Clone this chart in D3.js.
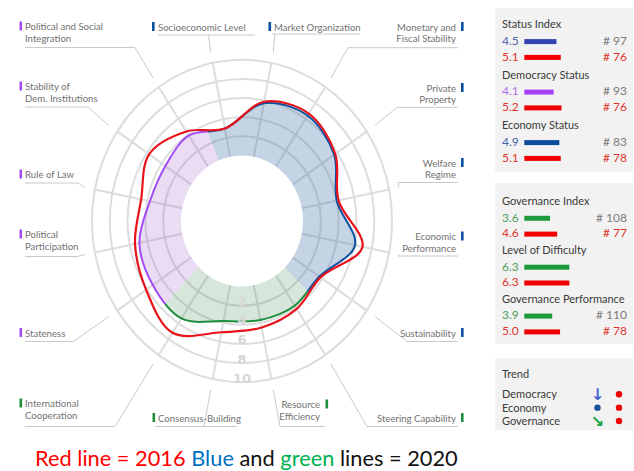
<!DOCTYPE html>
<html><head><meta charset="utf-8">
<script src="https://cdn.jsdelivr.net/npm/d3@7"></script>
<style>body{margin:0;background:#fff}svg{display:block}</style>
</head><body>
<svg id="c" width="634" height="471"></svg>
<script>
// ---------------- DATA ----------------
const criteria = ["Socioeconomic Level","Market Organization","Monetary and Fiscal Stability","Private Property","Welfare Regime","Economic Performance","Sustainability","Steering Capability","Resource Efficiency","Consensus-Building","International Cooperation","Stateness","Political Participation","Rule of Law","Stability of Dem. Institutions","Political and Social Integration"];
const criteriaGroup = ["E","E","E","E","E","E","E","G","G","G","G","D","D","D","D","D"];
const values2020 = [3.0,5.7,6.4,5.6,4.0,6.1,3.6,3.8,3.7,3.8,5.4,5.2,4.9,3.7,3.5,3.9];
const values2016 = [3.0,5.85,6.65,5.75,4.2,6.95,3.75,4.2,4.5,5.0,7.2,6.1,5.4,4.7,5.7,4.4];
const ringTicks = [2,4,6,8,10];

const statusLabels = ["Status Index","Democracy Status","Economy Status"];
const status2020 = [4.5,4.1,4.9];
const status2016 = [5.1,5.2,5.1];
const statusRank2020 = ["# 97","# 93","# 83"];
const statusRank2016 = ["# 76","# 76","# 78"];

const govLabels = ["Governance Index","Level of Difficulty","Governance Performance"];
const gov2020 = [3.6,6.3,3.9];
const gov2016 = [4.6,6.3,5.0];
const govRank2020 = ["# 108","","# 110"];
const govRank2016 = ["# 77","","# 78"];

const trendLabels = ["Democracy","Economy","Governance"];
const trend2020 = ["down","steady","downright"];
const trend2016 = ["dot","dot","dot"];

// ---------------- STYLE / LAYOUT ----------------
const cx = 242, cy = 221, ys = 1.075;
const C = {
  E:{fill:"rgb(61,112,165)", op:0.3, line:"#0b4f9e"},
  G:{fill:"rgb(50,130,70)", op:0.2, line:"#1f8f3e"},
  D:{fill:"rgb(145,80,195)", op:0.2, line:"#a24cf6"},
  red:"#e8131b", grid:"#dddddd", label:"#727272", lead:"#c9c9c9"
};
const labelLayout = [
 {lines:["Socioeconomic Level"], anchor:"start", tx:158, ty:30.5, uy:35, ux1:158, ux2:255, jx:208.5, mx:152},
 {lines:["Market Organization"], anchor:"start", tx:274, ty:30.5, uy:34, ux1:272, ux2:360, jx:275, mx:268.5},
 {lines:["Monetary and","Fiscal Stability"], anchor:"end", tx:456, ty:30.5, uy:47.7, ux1:348, ux2:458, jx:348, mx:461},
 {lines:["Private","Property"], anchor:"end", tx:456, ty:91.5, uy:107.3, ux1:397, ux2:458, jx:397, mx:461},
 {lines:["Welfare","Regime"], anchor:"end", tx:456, ty:166.5, uy:182.5, ux1:398, ux2:458, jx:398, mx:461},
 {lines:["Economic","Performance"], anchor:"end", tx:456, ty:240, uy:256, ux1:398, ux2:458, jx:398, mx:461},
 {lines:["Sustainability"], anchor:"end", tx:456, ty:336.5, uy:341.5, ux1:407, ux2:458, jx:407, mx:461},
 {lines:["Steering Capability"], anchor:"end", tx:456, ty:421.5, uy:426.5, ux1:367, ux2:458, jx:367, mx:461},
 {lines:["Resource","Efficiency"], anchor:"end", tx:320, ty:408, uy:426.5, ux1:280, ux2:325, jx:280, mx:325.5},
 {lines:["Consensus-Building"], anchor:"start", tx:158, ty:421.5, uy:426.5, ux1:155, ux2:237, jx:204, mx:152.5},
 {lines:["International","Cooperation"], anchor:"start", tx:25, ty:407, uy:426.5, ux1:25, ux2:115, jx:115, mx:19.5},
 {lines:["Stateness"], anchor:"start", tx:25, ty:336.5, uy:341.5, ux1:25, ux2:73, jx:73, mx:19.5},
 {lines:["Political","Participation"], anchor:"start", tx:25, ty:238, uy:256.5, ux1:25, ux2:77, jx:77, mx:19.5},
 {lines:["Rule of Law"], anchor:"start", tx:25, ty:178, uy:183, ux1:25, ux2:78, jx:78, mx:19.5},
 {lines:["Stability of","Dem. Institutions"], anchor:"start", tx:25, ty:90, uy:107, ux1:25, ux2:88, jx:88, mx:19.5},
 {lines:["Political and Social","Integration"], anchor:"start", tx:25, ty:30, uy:47.5, ux1:25, ux2:135, jx:135, mx:19.5}
];

const svg = d3.select("#c");
const n = criteria.length, step = 2*Math.PI/n;
const r = d3.scaleLinear().domain([0,10]).range([61,150]);
const ang = d3.scaleLinear().domain([0,n]).range([-step/2, 2*Math.PI - step/2]);

// group wedges
const groupKeys = ["E","G","D"];
const wedges = groupKeys.map(k=>{
  const idx = criteriaGroup.map((g,i)=>g===k?i:-1).filter(i=>i>=0);
  return {key:k, a0: ang(d3.min(idx)) - step/2, a1: ang(d3.max(idx)) + step/2};
});
const defs = svg.append("defs");
const wedgeArc = d3.arc().innerRadius(0).outerRadius(220);
wedges.forEach(w=>{
  defs.append("clipPath").attr("id","clip-"+w.key)
    .append("path").attr("d", wedgeArc({startAngle:w.a0, endAngle:w.a1}));
});

const g = svg.append("g").attr("transform",`translate(${cx},${cy}) scale(1,${ys})`);
// grid
g.selectAll("circle.ring").data(ringTicks).join("circle").attr("class","ring")
  .attr("r", d=>r(d)).attr("fill","none").attr("stroke",C.grid).attr("stroke-width",2)
  .attr("vector-effect","non-scaling-stroke");
g.selectAll("line.spoke").data(criteria).join("line").attr("class","spoke")
  .attr("x1",(d,i)=>r(0)*Math.sin(ang(i))).attr("y1",(d,i)=>-r(0)*Math.cos(ang(i)))
  .attr("x2",(d,i)=>r(10)*Math.sin(ang(i))).attr("y2",(d,i)=>-r(10)*Math.cos(ang(i)))
  .attr("stroke",C.grid).attr("stroke-width",2).attr("vector-effect","non-scaling-stroke");

const radial = d3.lineRadial().angle((d,i)=>ang(i)).radius(d=>r(d)).curve(d3.curveCatmullRomClosed.alpha(0.5));
// fills
wedges.forEach(w=>{
  g.append("path").attr("d", radial(values2020)).attr("fill",C[w.key].fill).attr("fill-opacity",C[w.key].op)
    .attr("clip-path",`url(#clip-${w.key})`);
});
g.append("circle").attr("r", r(0)).attr("fill","#fff");

// ring numbers
svg.selectAll("text.tick").data(ringTicks).join("text").attr("class","tick")
  .attr("x",cx).attr("y",d=>cy + ys*r(d) + 0.5).attr("text-anchor","middle")
  .attr("font-family","DejaVu Sans, sans-serif").attr("font-weight","bold").attr("font-size",13)
  .attr("fill","#d6d6d6").text(d=>d);

// lines 2020
wedges.forEach(w=>{
  g.append("path").attr("d", radial(values2020)).attr("fill","none").attr("stroke",C[w.key].line)
    .attr("stroke-width",2).attr("vector-effect","non-scaling-stroke").attr("clip-path",`url(#clip-${w.key})`);
});
// line 2016
g.append("path").attr("d", radial(values2016)).attr("fill","none").attr("stroke",C.red)
  .attr("stroke-width",2.2).attr("vector-effect","non-scaling-stroke");

// labels
const lab = svg.append("g").attr("font-family","Lato, sans-serif").attr("font-size",9.6).attr("fill",C.label);
criteria.forEach((c,i)=>{
  const L = labelLayout[i];
  const a = ang(i);
  const px = cx + 160*Math.sin(a), py = cy - ys*160*Math.cos(a);
  lab.append("line").attr("x1",px).attr("y1",py).attr("x2",L.jx).attr("y2",L.uy).attr("stroke",C.lead).attr("stroke-width",1);
  lab.append("line").attr("x1",L.ux1).attr("y1",L.uy).attr("x2",L.ux2).attr("y2",L.uy).attr("stroke",C.lead).attr("stroke-width",1);
  const t = lab.append("text").attr("text-anchor",L.anchor);
  L.lines.forEach((s,j)=>t.append("tspan").attr("x",L.tx).attr("y",L.ty + j*11.5).text(s));
  lab.append("rect").attr("x",L.mx).attr("y",L.ty-8.5).attr("width",2.6).attr("height",9)
    .attr("fill",C[criteriaGroup[i]].line);
});

// ---------------- PANEL ----------------
const P = svg.append("g").attr("font-family","Lato, sans-serif");
const bx = d3.scaleLinear().domain([0,10]).range([0,71.5]);
P.append("rect").attr("x",495).attr("y",8).attr("width",138).attr("height",164).attr("fill","#f2f2f2");
P.append("rect").attr("x",495).attr("y",183).attr("width",138).attr("height",161).attr("fill","#f2f2f2");
P.append("rect").attr("x",495).attr("y",358).attr("width",138).attr("height",72).attr("fill","#f2f2f2");

function block(labels, v20, v16, rk20, rk16, y0, gap, txt20, bar20){
  labels.forEach((s,i)=>{
    const y = y0 + i*gap;
    P.append("text").attr("x",502).attr("y",y).attr("font-size",11).attr("fill","#3a3a3a").text(s);
    const rows = [{v:v20[i], rk:rk20[i], tc:txt20[i], bc:bar20[i], rc:"#7a7a7a", dy:16.6},
                  {v:v16[i], rk:rk16[i], tc:"#e0352f", bc:"#f20000", rc:"#e0352f", dy:32.4}];
    rows.forEach(o=>{
      P.append("text").attr("x",502).attr("y",y+o.dy).attr("font-size",12).attr("fill",o.tc).text(o.v.toFixed(1));
      P.append("rect").attr("x",524.3).attr("y",y+o.dy-5.8).attr("width",bx(o.v)).attr("height",5).attr("fill",o.bc);
      P.append("text").attr("x",627).attr("y",y+o.dy).attr("text-anchor","end").attr("font-size",12).attr("fill",o.rc).text(o.rk);
    });
  });
}
block(statusLabels, status2020, status2016, statusRank2020, statusRank2016, 28.3, 50.5,
  ["#5562b0","#b274ea","#3f67ad"], ["#3344b0","#a640f5","#0d4c9c"]);
block(govLabels, gov2020, gov2016, govRank2020, govRank2016, 205, 48.9,
  ["#4ea05a","#4ea05a","#4ea05a"], ["#1e9a3c","#1e9a3c","#1e9a3c"]);

P.append("text").attr("x",502).attr("y",378.3).attr("font-size",11).attr("fill","#3a3a3a").text("Trend");
const trendGlyph = {down:{ch:"↓",c:"#4565d6"}, downright:{ch:"↘",c:"#21a33f"}};
trendLabels.forEach((s,i)=>{
  const y = 398.3 + i*13.35;
  P.append("text").attr("x",502).attr("y",y).attr("font-size",11).attr("fill","#3a3a3a").text(s);
  const t = trend2020[i];
  if (t==="steady") P.append("circle").attr("cx",597.5).attr("cy",y-4).attr("r",3.2).attr("fill","#1b4fa0");
  else P.append("text").attr("x",597.5).attr("y",y+2).attr("text-anchor","middle").attr("font-family","DejaVu Sans")
        .attr("font-weight","bold").attr("font-size",16).attr("fill",trendGlyph[t].c).text(trendGlyph[t].ch);
  if (trend2016[i]==="dot") P.append("circle").attr("cx",619).attr("cy",y-4).attr("r",3.2).attr("fill","#f00000");
});

// caption
const cap = svg.append("text").attr("x",35).attr("y",466).attr("font-family","Lato, sans-serif").attr("font-size",21.8);
[["Red line = 2016 ","#ff0000"],["Blue ","#0070c0"],["and ","#111"],["green ","#00b050"],["lines = 2020","#111"]]
  .forEach(([s,c])=>cap.append("tspan").attr("fill",c).text(s));
</script>
</body></html>
